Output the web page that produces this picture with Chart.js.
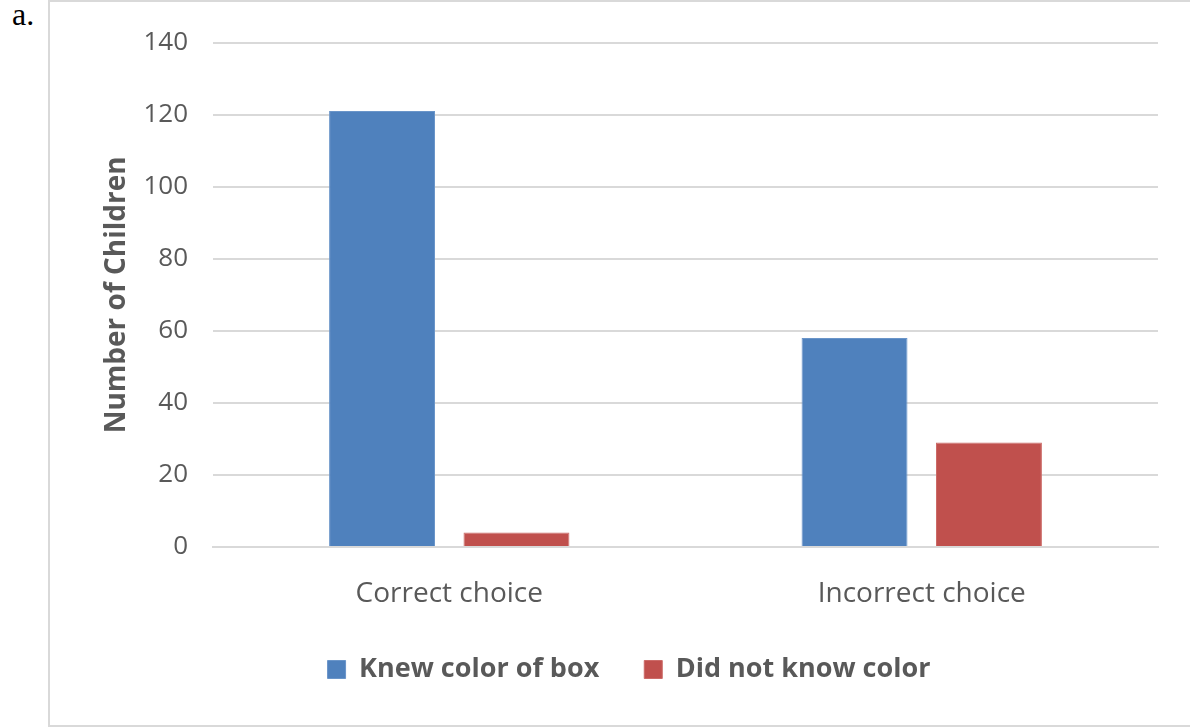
<!DOCTYPE html>
<html>
<head>
<meta charset="utf-8">
<script src="https://cdn.jsdelivr.net/npm/chart.js@4.4.1/dist/chart.umd.min.js"></script>
<style>
  html, body { margin: 0; padding: 0; background: #fff; }
  body { width: 1190px; height: 727px; position: relative; overflow: hidden; }
  #label { position: absolute; left: 12px; top: -4px; font-family: "Liberation Serif", serif; font-size: 32px; color: #000; }
  #frame { position: absolute; left: 48px; top: 0px; width: 1160px; height: 723px; border: 2px solid #d9d9d9; }
  #wrap { position: absolute; left: 50px; top: 2px; width: 1140px; height: 722px; }
</style>
</head>
<body>
<div id="label">a.</div>
<div id="frame"></div>
<div id="wrap"><canvas id="myChart"></canvas></div>
<script>
// datos del grafico
const categorias = ["Correct choice", "Incorrect choice"];
const knewColor = [121, 58];
const didNotKnow = [4, 29];
const ticksY = [0, 20, 40, 60, 80, 100, 120, 140];

const gris = "#595959";
const fuente = "'Open Sans', sans-serif";

const data = {
  labels: categorias,
  datasets: [
    {
      label: "Knew color of box",
      data: knewColor,
      backgroundColor: "#4f81bd",
      borderColor: "#6a95c9",
      borderWidth: 1,
    },
    {
      label: "Did not know color",
      data: didNotKnow,
      backgroundColor: "#c0504d",
      borderColor: "#cc6b68",
      borderWidth: 1,
    },
  ],
};

const config = {
  type: "bar",
  data: data,
  options: {
    responsive: true,
    maintainAspectRatio: false,
    animation: false,
    categoryPercentage: 0.569,
    barPercentage: 0.788,
    layout: { padding: { top: 31, right: 32, bottom: 31, left: 50 } },
    plugins: {
      tooltip: { enabled: false },
      legend: {
        position: "bottom",
        labels: {
          color: gris,
          font: { family: fuente, size: 27, weight: "bold" },
          boxWidth: 18,
          boxHeight: 18,
          padding: 45,
        },
      },
    },
    scales: {
      x: {
        afterFit: (scale) => {
          scale.height = 64;
        },
        grid: { display: false },
        border: { color: "#d9d9d9", width: 2 },
        ticks: {
          color: gris,
          font: { family: fuente, size: 28 },
          padding: 22,
        },
      },
      y: {
        min: 0,
        max: 140,
        afterBuildTicks: (scale) => {
          scale.ticks = ticksY.map((v) => ({ value: v }));
        },
        afterFit: (scale) => {
          scale.width = 113;
        },
        grid: { color: "#d9d9d9", lineWidth: 2, drawTicks: false },
        border: { display: false },
        ticks: {
          color: gris,
          font: { family: fuente, size: 26 },
          padding: 25,
        },
        title: {
          display: true,
          text: "Number of Children",
          color: gris,
          font: { family: fuente, size: 28, weight: "bold" },
          padding: { top: 0, bottom: 0 },
        },
      },
    },
  },
};

new Chart(document.getElementById("myChart"), config);
</script>
</body>
</html>
